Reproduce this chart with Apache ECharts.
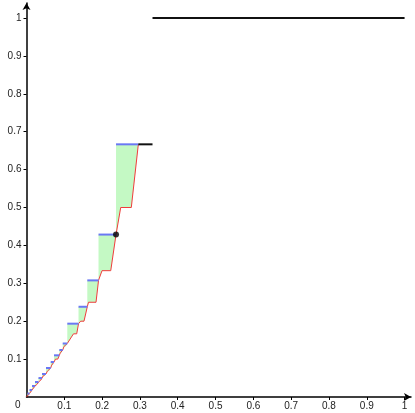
<!DOCTYPE html>
<html><head><meta charset="utf-8">
<script src="https://cdn.jsdelivr.net/npm/echarts@6/dist/echarts.min.js"></script>
<style>html,body{margin:0;padding:0;background:#fff}#c{width:415px;height:413px}</style>
</head><body><div id="c"></div>
<script>
// Blue step tops (y) with their x extents, from the top block down
const blockY = [0.6667,0.4286,0.3077,0.2381,0.1935,0.1412,0.124,0.110,0.0923,0.0765,0.0607,0.050,0.0396,0.029,0.0185,0.0092];
const blockL = [0.2368,0.1905,0.1608,0.1376,0.1079,0.0958,0.0868,0.0728,0.064,0.0516,0.041,0.0317,0.0225,0.0146,0.008,0.0026];
const blockR = [0.2958,0.2368,0.1905,0.1608,0.1376,0.1079,0.0958,0.0868,0.0728,0.064,0.0516,0.041,0.0317,0.0225,0.0146,0.008];
// Red curve points (ascending x)
const redX = [0,0.0026,0.008,0.0105,0.0125,0.0146,0.0172,0.0198,0.0225,0.0252,0.0285,0.0317,0.0345,0.0378,0.041,0.0442,0.048,0.0516,0.0552,0.0598,0.064,0.0665,0.0698,0.0728,0.0768,0.0828,0.0868,0.0895,0.0928,0.0958,0.0992,0.1042,0.1079,0.1243,0.1328,0.1376,0.1434,0.1521,0.1608,0.1640,0.1839,0.1905,0.1997,0.2228,0.2368,0.2492,0.2772,0.2958];
const redY = [0,0.002,0.0092,0.0135,0.0135,0.0185,0.023,0.023,0.029,0.034,0.034,0.0396,0.0445,0.0445,0.050,0.0555,0.0555,0.0607,0.068,0.068,0.0765,0.084,0.084,0.0923,0.1,0.1,0.110,0.1165,0.1165,0.124,0.1333,0.1333,0.1412,0.1667,0.1667,0.1935,0.2,0.2,0.2381,0.25,0.25,0.3077,0.3333,0.3333,0.4286,0.5,0.5,0.6667];
// Black segments
const blackX1 = [0.2958,0.3333];
const blackX2 = [0.3333,1];
const blackY = [0.6667,1];
// Marked point
const dotX = [0.2368];
const dotY = [0.4286];
const xTicks = [0.1,0.2,0.3,0.4,0.5,0.6,0.7,0.8,0.9,1];
const yTicks = [0.1,0.2,0.3,0.4,0.5,0.6,0.7,0.8,0.9,1];

const redPts = redX.map((x,i)=>[x,redY[i]]);
const fmt = v => (Math.round(v*10)/10).toString();
const chart = echarts.init(document.getElementById('c'));
const axisCommon = {
  type:'value', splitLine:{show:false},
  axisLine:{show:true,onZero:false,lineStyle:{color:'#000',width:1.5},symbol:['none','arrow'],symbolSize:[6,7]},
  axisTick:{show:true,length:3,lineStyle:{color:'#000'}},
  axisLabel:{color:'#222',fontSize:10,fontFamily:'Liberation Sans, Arial',formatter:fmt}
};
chart.setOption({
  animation:false,
  grid:{left:26.5,right:4,top:3,bottom:16,containLabel:false},
  xAxis:Object.assign({},axisCommon,{min:0,max:1.017,
    axisTick:Object.assign({},axisCommon.axisTick,{customValues:xTicks}),
    axisLabel:Object.assign({},axisCommon.axisLabel,{customValues:xTicks,margin:4})}),
  yAxis:Object.assign({},axisCommon,{min:0,max:1.0396,
    axisTick:Object.assign({},axisCommon.axisTick,{customValues:yTicks}),
    axisLabel:Object.assign({},axisCommon.axisLabel,{customValues:yTicks,margin:5})}),
  graphic:[{type:'text',left:15,top:400,style:{text:'0',fill:'#222',font:'10px Liberation Sans'}}],
  series:[
    {type:'custom',z:1,data:blockY.map((y,i)=>[blockL[i],y,i]),
     renderItem:function(params,api){
       const i=api.value(2);const L=blockL[i],R=blockR[i],y=blockY[i];
       const pts=[api.coord([L,y]),api.coord([R,y])];
       for(let j=redPts.length-1;j>=0;j--){const p=redPts[j];if(p[0]<=R+1e-9&&p[0]>=L-1e-9)pts.push(api.coord(p));}
       return {type:'polygon',shape:{points:pts},style:{fill:'#c4f9c4',stroke:null}};
     }},
    {type:'line',z:3,data:redPts,showSymbol:false,lineStyle:{color:'#f03c3c',width:1},silent:true},
    {type:'custom',z:4,data:blockY.map((y,i)=>[blockL[i],blockR[i],y]),
     renderItem:function(params,api){
       const a=api.coord([api.value(0),api.value(2)]),b=api.coord([api.value(1),api.value(2)]);
       return {type:'line',shape:{x1:a[0],y1:a[1],x2:b[0],y2:b[1]},style:{stroke:'#6a78f4',lineWidth:2}};
     }},
    {type:'custom',z:5,data:blackY.map((y,i)=>[blackX1[i],blackX2[i],y]),
     renderItem:function(params,api){
       const a=api.coord([api.value(0),api.value(2)]),b=api.coord([api.value(1),api.value(2)]);
       return {type:'line',shape:{x1:a[0],y1:a[1],x2:b[0],y2:b[1]},style:{stroke:'#111',lineWidth:2}};
     }},
    {type:'scatter',z:6,data:dotX.map((x,i)=>[x,dotY[i]]),symbolSize:6,itemStyle:{color:'#000'}}
  ]
});
</script></body></html>
